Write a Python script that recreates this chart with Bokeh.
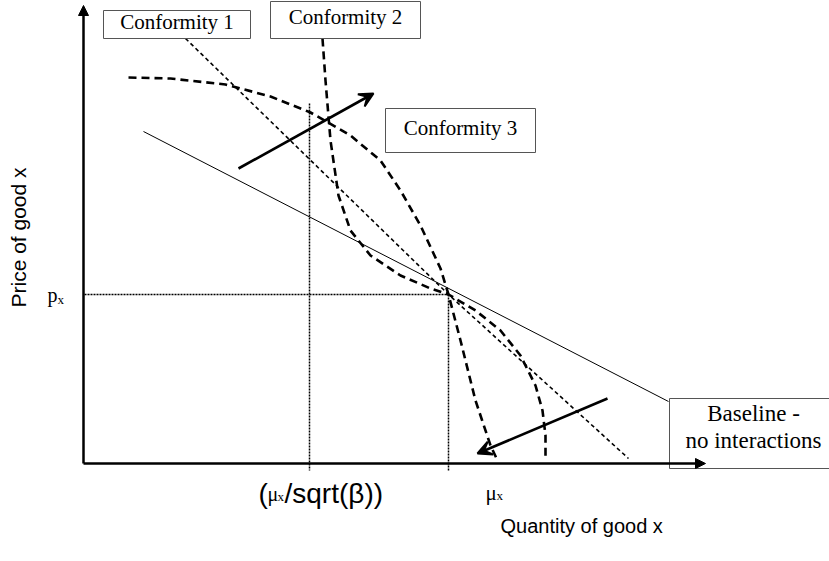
from bokeh.plotting import figure
from bokeh.models import Range1d, Arrow, NormalHead, VeeHead
from bokeh.core.properties import value
from bokeh.embed import file_html
from bokeh.resources import INLINE

# ---- schematic data (quantity, price) in chart units, origin at axes corner ----
curve_a_q = [45, 87, 142, 187, 227, 267, 297, 317, 337, 357, 365, 377, 392, 407, 414]
curve_a_p = [386, 385, 379, 367, 351, 328, 303, 273, 238, 195, 169, 123, 63, 18, 3]

curve_s_q = [239, 242, 247, 255, 267, 287, 317, 347, 365, 392, 417, 437, 452, 459, 462, 462]
curve_s_p = [425, 383, 323, 268, 233, 208, 188, 175, 169, 153, 133, 108, 78, 53, 28, 5]

line_c1_q = [102, 365, 545]
line_c1_p = [425, 169, 5]

baseline_q = [60, 585]
baseline_p = [332, 62]

mu_x = 365          # quantity at equilibrium
p_x = 169           # price at equilibrium
mu_sqrt_beta = 226  # quantity mu_x / sqrt(beta)

arrow_up = [155, 295, 290, 370]     # q0, p0, q1, p1
arrow_down = [524, 65, 394, 10]

axis_x_end = 622
axis_y_end = 458

box_labels = ["Conformity 1", "Conformity 2", "Conformity 3"]
box_left = [20, 187, 302]
box_right = [167, 337, 452]
box_bottom = [425, 425, 311]
box_top = [453, 462, 355]

p = figure(width=829, height=561, x_range=Range1d(-83, 746), y_range=Range1d(-98, 463),
           output_backend="svg", toolbar_location=None, min_border=0,
           x_axis_location=None, y_axis_location=None)
p.grid.visible = False
p.outline_line_color = None
p.background_fill_color = "white"

# dotted guide lines
p.line([1, mu_x], [p_x, p_x], line_color="black", line_width=1.5, line_dash="2 1")
p.line([mu_x, mu_x], [p_x, -7], line_color="black", line_width=1.5, line_dash="2 1")
p.line([mu_sqrt_beta, mu_sqrt_beta], [360, -7], line_color="black", line_width=1.5, line_dash="2 1")

# baseline
p.line(baseline_q, baseline_p, line_color="black", line_width=1)
# conformity curves
p.line(line_c1_q, line_c1_p, line_color="black", line_width=1.6, line_dash="4 3")
p.line(curve_a_q, curve_a_p, line_color="black", line_width=2.6, line_dash="8 5")
p.line(curve_s_q, curve_s_p, line_color="black", line_width=2.6, line_dash="8 5")

# axes
p.add_layout(Arrow(end=NormalHead(size=10, fill_color="black", line_color="black"),
                   x_start=0, y_start=0, x_end=axis_x_end, y_end=0,
                   line_width=2.5, line_color="black"))
p.add_layout(Arrow(end=NormalHead(size=10, fill_color="black", line_color="black"),
                   x_start=0, y_start=0, x_end=0, y_end=axis_y_end,
                   line_width=2.5, line_color="black"))

# shift arrows
for a in (arrow_up, arrow_down):
    p.add_layout(Arrow(end=VeeHead(size=14, fill_color="black", line_color="black", line_width=2),
                       x_start=a[0], y_start=a[1], x_end=a[2], y_end=a[3],
                       line_width=2.6, line_color="black"))

# label boxes
p.quad(left=box_left, right=box_right, bottom=box_bottom, top=box_top,
       fill_color="white", line_color="#555555", line_width=1)
p.quad(left=[586], right=[760], bottom=[-5], top=[65],
       fill_color="white", line_color="#555555", line_width=1)

serif = value("Liberation Serif")
sans = value("Liberation Sans")

p.text(x=[(l + r) / 2 for l, r in zip(box_left, box_right)],
       y=[(b + t) / 2 + 3 for b, t in zip(box_bottom, box_top)],
       text=box_labels, text_font=serif, text_font_size="21px",
       text_align="center", text_baseline="middle", text_color="black")
p.text(x=[670, 670], y=[50, 23], text=["Baseline -", "no interactions"], text_font=serif,
       text_font_size="23px", text_align="center", text_baseline="middle", text_color="black")

# axis titles
p.text(x=[-65], y=[226], text=["Price of good x"], angle=1.5708, text_font=sans,
       text_font_size="21px", text_align="center", text_baseline="middle", text_color="black")
p.text(x=[417], y=[-62], text=["Quantity of good x"], text_font=sans,
       text_font_size="20px", text_align="left", text_baseline="middle", text_color="black")

# p_x label
p.text(x=[-36], y=[p_x], text=["p"], text_font=serif, text_font_size="20px",
       text_align="left", text_baseline="middle", text_color="black")
p.text(x=[-26], y=[p_x - 5], text=["x"], text_font=serif, text_font_size="13px",
       text_align="left", text_baseline="middle", text_color="black")

# mu_x label
p.text(x=[mu_x + 37], y=[-29], text=["\u03bc"], text_font=serif, text_font_size="21px",
       text_align="left", text_baseline="middle", text_color="black")
p.text(x=[mu_x + 48], y=[-32], text=["x"], text_font=serif, text_font_size="13px",
       text_align="left", text_baseline="middle", text_color="black")

# (mu_x/sqrt(beta)) label
p.text(x=[mu_sqrt_beta - 51], y=[-30], text=["("], text_font=sans, text_font_size="28px",
       text_align="left", text_baseline="middle", text_color="black")
p.text(x=[mu_sqrt_beta - 42], y=[-30], text=["\u03bc"], text_font=serif, text_font_size="20px",
       text_align="left", text_baseline="middle", text_color="black")
p.text(x=[mu_sqrt_beta - 32], y=[-33], text=["x"], text_font=serif, text_font_size="13px",
       text_align="left", text_baseline="middle", text_color="black")
p.text(x=[mu_sqrt_beta - 25], y=[-30], text=["/sqrt(\u03b2))"], text_font=sans, text_font_size="28px",
       text_align="left", text_baseline="middle", text_color="black")

open("out.html", "w").write(file_html(p, INLINE))
